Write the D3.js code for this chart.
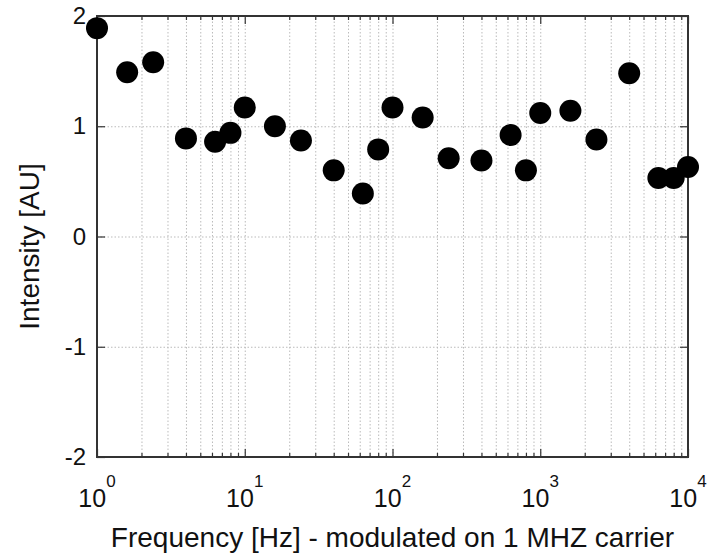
<!DOCTYPE html>
<html>
<head>
<meta charset="utf-8">
<script src="https://cdn.jsdelivr.net/npm/d3@7"></script>
<style>
  body { margin: 0; background: #fff; }
  svg { font-family: 'Liberation Sans', Arial, sans-serif; }
  .grid line { stroke: #bbb; stroke-dasharray: 1.5 2; }
  .grid .domain { display: none; }
  .ticks .domain { display: none; }
  .ticks line { stroke: #333; stroke-width: 1.2; }
</style>
</head>
<body>
<div id="chart"></div>
<script>
// frequency in Hz, intensity in AU
var freqs = [1, 1.6, 2.4, 4, 6.3, 8, 10, 16, 24, 40, 63, 80, 100, 160, 240, 400, 630, 800, 1000, 1600, 2400, 4000, 6300, 8000, 10000]
var intensity = [1.89, 1.49, 1.58, 0.89, 0.86, 0.94, 1.17, 1.0, 0.87, 0.6, 0.39, 0.79, 1.17, 1.08, 0.71, 0.69, 0.92, 0.6, 1.12, 1.14, 0.88, 1.48, 0.53, 0.53, 0.63]

var xMajor = [1, 10, 100, 1000, 10000]
var xExp = ['0', '1', '2', '3', '4']
var yTicks = [-2, -1, 0, 1, 2]

var margin = { top: 16, left: 97, right: 22, bottom: 96 }
var width = 710 - margin.left - margin.right
var height = 553 - margin.top - margin.bottom

var svg = d3
  .select('#chart')
  .append('svg')
  .attr('width', 710)
  .attr('height', 553)
  .append('g')
  .attr('transform', 'translate(' + margin.left + ',' + margin.top + ')')

var x = d3.scaleLog().domain([1, 10000]).range([0, width])
var y = d3.scaleLinear().domain([-2, 2]).range([height, 0])

// minor log ticks 2..9 in each decade
var xMinor = []
xMajor.slice(0, -1).forEach(function(d) {
  for (var k = 2; k <= 9; k++) xMinor.push(d * k)
})
var xAll = xMajor.concat(xMinor)

// grid
svg.append('g')
  .attr('class', 'grid')
  .attr('transform', 'translate(0,' + height + ')')
  .call(d3.axisBottom(x).tickValues(xAll).tickSize(-height).tickFormat(''))

svg.append('g')
  .attr('class', 'grid')
  .call(d3.axisLeft(y).tickValues([-1, 0, 1]).tickSize(-width).tickFormat(''))

// inward ticks, all four sides
svg.append('g').attr('class', 'ticks')
  .attr('transform', 'translate(0,' + height + ')')
  .call(d3.axisBottom(x).tickValues(xMajor).tickSize(-8).tickFormat(''))
svg.append('g').attr('class', 'ticks')
  .attr('transform', 'translate(0,' + height + ')')
  .call(d3.axisBottom(x).tickValues(xMinor).tickSize(-4).tickFormat(''))
svg.append('g').attr('class', 'ticks')
  .call(d3.axisTop(x).tickValues(xMajor).tickSize(-8).tickFormat(''))
svg.append('g').attr('class', 'ticks')
  .call(d3.axisTop(x).tickValues(xMinor).tickSize(-4).tickFormat(''))

var yAxis = svg.append('g').attr('class', 'ticks')
  .call(d3.axisLeft(y).tickValues(yTicks).tickSize(-8).tickPadding(11)
    .tickFormat(d => d.toString()))
yAxis.selectAll('text')
  .attr('font-size', 24)
  .attr('fill', '#111')
  .attr('font-family', "'Liberation Sans', Arial, sans-serif")

svg.append('g').attr('class', 'ticks')
  .attr('transform', 'translate(' + width + ',0)')
  .call(d3.axisRight(y).tickValues(yTicks).tickSize(-8).tickFormat(''))

// box
svg.append('rect')
  .attr('x', 0)
  .attr('y', 0)
  .attr('width', width)
  .attr('height', height)
  .attr('fill', 'none')
  .attr('stroke', '#333')
  .attr('stroke-width', 2)

// x tick labels as 10^n
var xl = svg.selectAll('.xlab')
  .data(xMajor)
  .enter()
  .append('text')
  .attr('class', 'xlab')
  .attr('x', d => x(d))
  .attr('y', height + 50)
  .attr('text-anchor', 'middle')
  .attr('fill', '#111')
xl.append('tspan')
  .attr('font-size', 25)
  .text('10')
xl.append('tspan')
  .attr('font-size', 17)
  .attr('dy', -20)
  .text((d, i) => xExp[i])

// points
svg.selectAll('.dot')
  .data(freqs)
  .enter()
  .append('circle')
  .attr('class', 'dot')
  .attr('cx', d => x(d))
  .attr('cy', (d, i) => y(intensity[i]))
  .attr('r', 11)
  .attr('fill', '#000')

// axis titles
svg.append('text')
  .attr('x', width / 2)
  .attr('y', height + 90)
  .attr('text-anchor', 'middle')
  .attr('font-size', 28)
  .attr('fill', '#111')
  .text('Frequency [Hz] - modulated on 1 MHZ carrier')

svg.append('text')
  .attr('transform', 'translate(' + -58 + ',' + (y(0) + 10) + ') rotate(-90)')
  .attr('text-anchor', 'middle')
  .attr('font-size', 28)
  .attr('fill', '#111')
  .text('Intensity [AU]')
</script>
</body>
</html>
